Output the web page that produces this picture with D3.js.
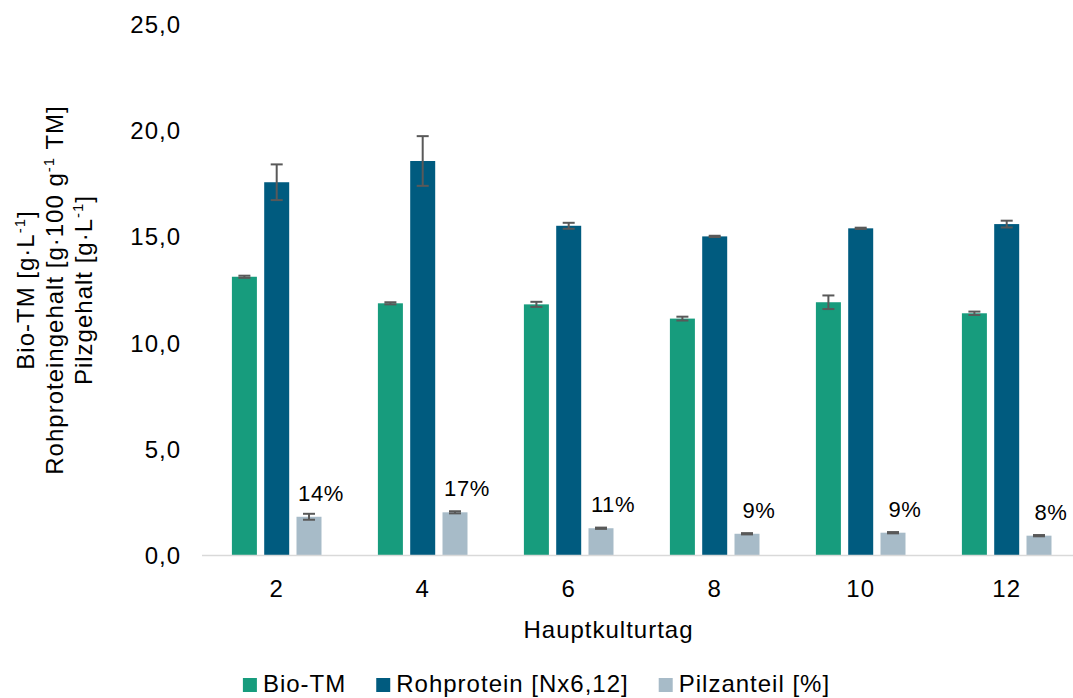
<!DOCTYPE html>
<html>
<head>
<meta charset="utf-8">
<script src="https://cdn.jsdelivr.net/npm/d3@7"></script>
<style>
  html, body { margin: 0; padding: 0; background: #fff; }
  svg { display: block; }
  text { font-family: "Liberation Sans", Arial, sans-serif; fill: #000; }
</style>
</head>
<body>
<svg id="chart" width="1073" height="698"></svg>
<script>
// ---- data ----
const days = ["2", "4", "6", "8", "10", "12"];
const seriesNames = ["Bio-TM", "Rohprotein [Nx6,12]", "Pilzanteil [%]"];
const bioTM = [13.10, 11.85, 11.80, 11.13, 11.90, 11.38];
const bioTMErr = [0.05, 0.05, 0.12, 0.09, 0.32, 0.08];
const rohprotein = [17.55, 18.55, 15.50, 15.00, 15.38, 15.58];
const rohproteinErr = [0.84, 1.17, 0.14, 0.03, 0.03, 0.16];
const pilz = [1.80, 2.01, 1.26, 1.00, 1.05, 0.91];
const pilzErr = [0.14, 0.05, 0.03, 0.03, 0.03, 0.03];
const pilzLabels = ["14%", "17%", "11%", "9%", "9%", "8%"];
const yTickValues = [0, 5, 10, 15, 20, 25];
const yTickLabels = ["0,0", "5,0", "10,0", "15,0", "20,0", "25,0"];
const colors = ["#179c7d", "#005b7f", "#a7bbc8"];

const seriesValues = [bioTM, rohprotein, pilz];
const seriesErrors = [bioTMErr, rohproteinErr, pilzErr];

// ---- layout ----
const svg = d3.select("#chart");
const FS = 24;
const LS = "1px";

const x0 = d3.scaleBand().domain(days).range([203.7, 1079.7]).paddingInner(0).paddingOuter(0);
const x1 = d3.scaleBand().domain(seriesNames).range([0, x0.bandwidth()]).paddingInner(0.226).paddingOuter(0.873);
const y = d3.scaleLinear().domain([0, 25]).range([555, 24]);

// bars
const groups = svg.append("g").selectAll("g")
  .data(days)
  .join("g")
  .attr("transform", d => `translate(${x0(d)},0)`);

seriesNames.forEach((s, si) => {
  groups.append("rect")
    .attr("x", x1(s))
    .attr("width", x1.bandwidth())
    .attr("y", (d, i) => y(seriesValues[si][i]))
    .attr("height", (d, i) => y(0) - y(seriesValues[si][i]))
    .attr("fill", colors[si]);
});

// x axis baseline
const xAxis = d3.axisBottom(x0).tickSize(0).tickFormat("");
svg.append("g")
  .attr("transform", `translate(0,${y(0)})`)
  .call(xAxis)
  .call(g => g.select(".domain").attr("stroke", "#d9d9d9").attr("stroke-width", 1.5).attr("d", `M${202},0.5H1073`));

// error bars
const capW = 12;
seriesNames.forEach((s, si) => {
  const cx = x1(s) + x1.bandwidth() / 2;
  const eb = groups.append("g").attr("stroke", "#595959").attr("stroke-width", 2);
  eb.append("line")
    .attr("x1", cx).attr("x2", cx)
    .attr("y1", (d, i) => y(seriesValues[si][i] + seriesErrors[si][i]))
    .attr("y2", (d, i) => y(seriesValues[si][i] - seriesErrors[si][i]));
  eb.append("line")
    .attr("x1", cx - capW / 2).attr("x2", cx + capW / 2)
    .attr("y1", (d, i) => y(seriesValues[si][i] + seriesErrors[si][i]))
    .attr("y2", (d, i) => y(seriesValues[si][i] + seriesErrors[si][i]));
  eb.append("line")
    .attr("x1", cx - capW / 2).attr("x2", cx + capW / 2)
    .attr("y1", (d, i) => y(seriesValues[si][i] - seriesErrors[si][i]))
    .attr("y2", (d, i) => y(seriesValues[si][i] - seriesErrors[si][i]));
});

// data labels above Pilzanteil
const pilzName = seriesNames[2];
groups.append("text")
  .attr("x", x1(pilzName) + x1.bandwidth() / 2 + 12)
  .attr("y", (d, i) => y(pilz[i]) - 16)
  .attr("text-anchor", "middle")
  .style("font-size", "22px")
  .style("letter-spacing", "0.6px")
  .text((d, i) => pilzLabels[i]);

// x tick labels
svg.append("g").selectAll("text")
  .data(days)
  .join("text")
  .attr("x", d => x0(d) + x0.bandwidth() / 2)
  .attr("y", 597)
  .attr("text-anchor", "middle")
  .style("font-size", FS + "px")
  .style("letter-spacing", LS)
  .text(d => d);

// y tick labels
const yAxis = d3.axisLeft(y).tickValues(yTickValues).tickFormat((d, i) => yTickLabels[i]).tickSize(0).tickPadding(0);
svg.append("g")
  .attr("transform", "translate(181,0)")
  .call(yAxis)
  .call(g => g.select(".domain").remove())
  .call(g => g.selectAll("text")
    .attr("fill", "#000")
    .attr("dy", "0.35em")
    .style("font-size", FS + "px")
    .style("font-family", "'Liberation Sans', Arial, sans-serif")
    .style("letter-spacing", LS));

// x axis title
svg.append("text")
  .attr("x", 608.5)
  .attr("y", 638)
  .attr("text-anchor", "middle")
  .style("font-size", FS + "px")
  .style("letter-spacing", LS)
  .text("Hauptkulturtag");

// y axis title (three lines)
const yTitleLines = [
  [["Bio-TM [g·L", false], ["-1", true], ["]", false]],
  [["Rohproteingehalt [g·100 g", false], ["-1", true], [" TM]", false]],
  [["Pilzgehalt [g·L", false], ["-1", true], ["]", false]]
];
const yTitleBase = [34, 63, 92];
yTitleLines.forEach((parts, li) => {
  const t = svg.append("text")
    .attr("transform", `translate(${yTitleBase[li]},290) rotate(-90)`)
    .attr("text-anchor", "middle")
    .style("font-size", FS + "px")
    .style("letter-spacing", LS);
  parts.forEach(([txt, sup], pi) => {
    const ts = t.append("tspan").text(txt);
    if (sup) {
      ts.style("font-size", "15px").attr("dy", -9);
    } else if (pi > 0 && parts[pi - 1][1]) {
      ts.attr("dy", 9);
    }
  });
});

// legend
const legend = svg.append("g");
const sq = 14, gapT = 6, gapItem = 30;
let lx = 0;
seriesNames.forEach((s, si) => {
  const item = legend.append("g").attr("transform", `translate(${lx},0)`);
  item.append("rect").attr("x", 0).attr("y", -sq + 0).attr("width", sq).attr("height", sq).attr("fill", colors[si]);
  const t = item.append("text")
    .attr("x", sq + gapT)
    .attr("y", 0)
    .style("font-size", FS + "px")
    .style("letter-spacing", LS)
    .text(s);
  const w = t.node().getComputedTextLength();
  lx += sq + gapT + w + gapItem;
});
const totalW = lx - gapItem;
legend.attr("transform", `translate(${536.5 - totalW / 2},692)`);
</script>
</body>
</html>
